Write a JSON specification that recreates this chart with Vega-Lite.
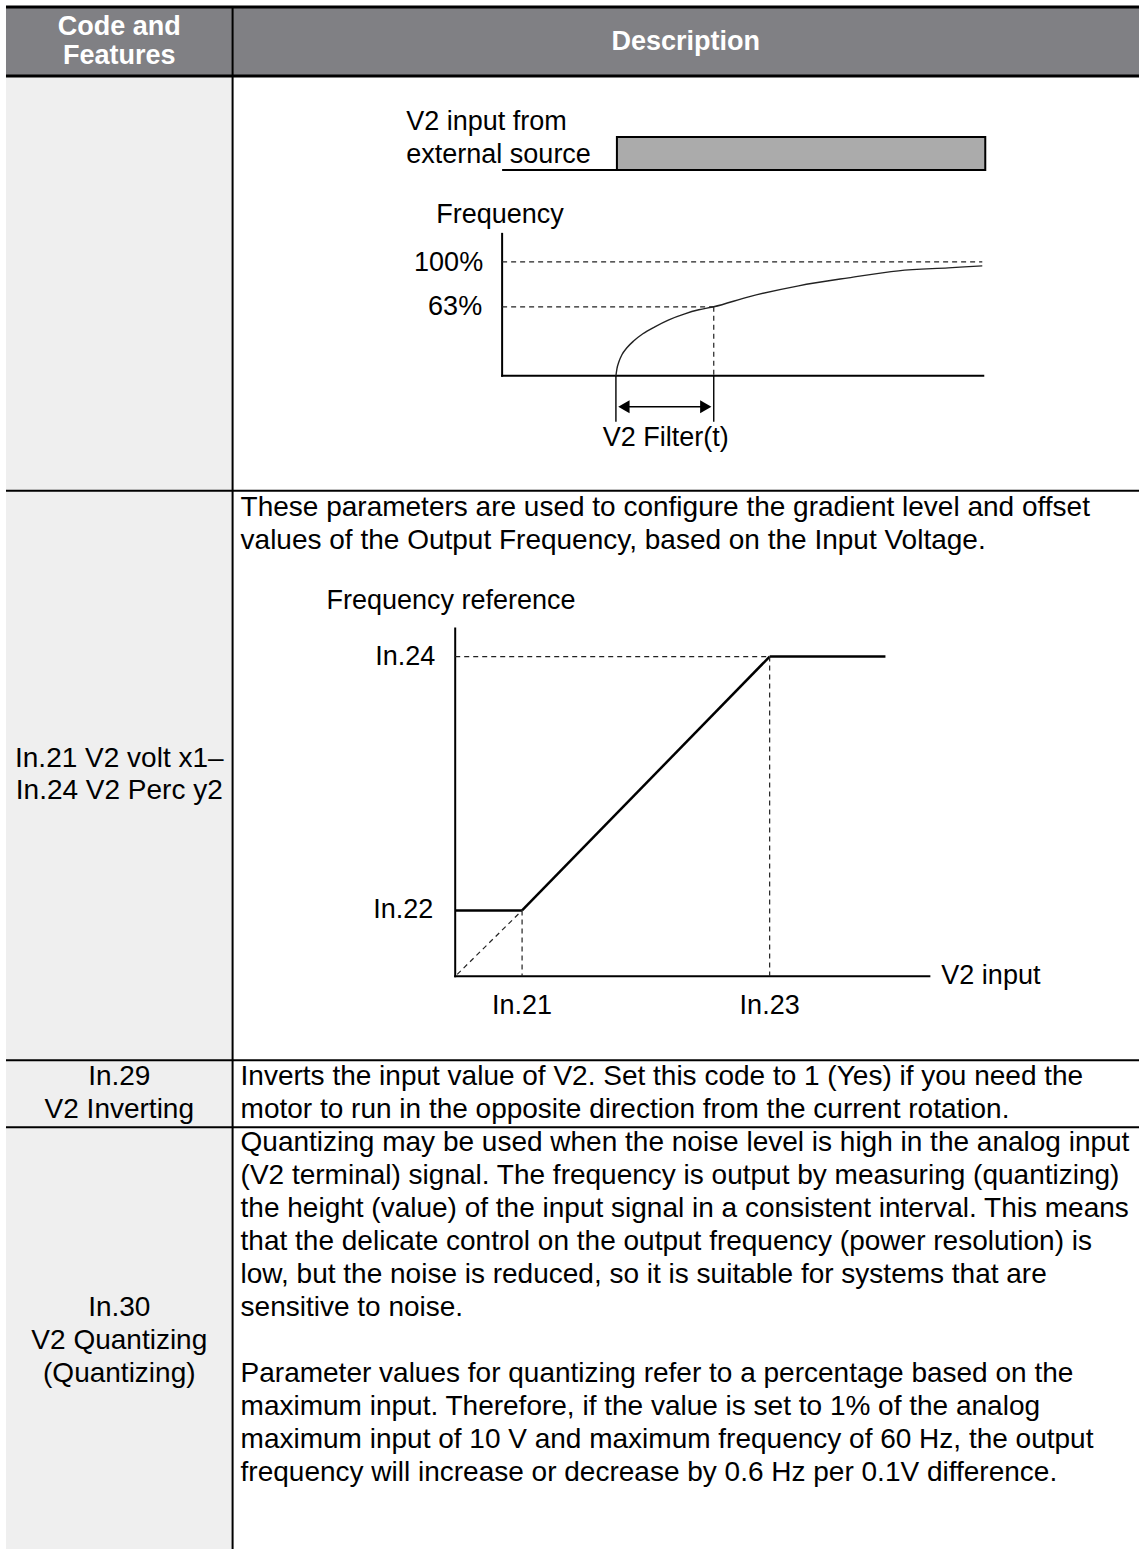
{
  "$schema": "https://vega.github.io/schema/vega-lite/v6.json",
  "width": 1141,
  "height": 1550,
  "padding": 0,
  "autosize": {"type": "fit", "contains": "padding"},
  "background": "white",
  "config": {"view": {"stroke": null}},
  "datasets": {
    "fills": [
      {"x": 6, "x2": 1141, "y": 8, "y2": 75, "kind": "header"},
      {"x": 6, "x2": 233, "y": 76, "y2": 1550, "kind": "code"}
    ],
    "pulse": [{"x": 618, "x2": 987, "y": 137, "y2": 170}],
    "lines": [
      {"x": 6, "y": 7, "x2": 1141, "y2": 7, "kind": "heavy"},
      {"x": 6, "y": 76, "x2": 1141, "y2": 76, "kind": "heavy"},
      {"x": 233, "y": 7, "x2": 233, "y2": 1550, "kind": "rule"},
      {"x": 6, "y": 491, "x2": 1141, "y2": 491, "kind": "rule"},
      {"x": 6, "y": 1061, "x2": 1141, "y2": 1061, "kind": "rule"},
      {"x": 6, "y": 1128, "x2": 1141, "y2": 1128, "kind": "rule"},
      {"x": 503, "y": 233, "x2": 503, "y2": 377, "kind": "rule"},
      {"x": 502, "y": 376, "x2": 986, "y2": 376, "kind": "rule"},
      {"x": 503, "y": 170, "x2": 618, "y2": 170, "kind": "rule"},
      {"x": 456, "y": 628, "x2": 456, "y2": 978, "kind": "rule"},
      {"x": 455, "y": 977, "x2": 932, "y2": 977, "kind": "rule"},
      {"x": 456, "y": 911, "x2": 523, "y2": 911, "kind": "plot"},
      {"x": 523, "y": 911, "x2": 771, "y2": 657, "kind": "plot"},
      {"x": 771, "y": 657, "x2": 887, "y2": 657, "kind": "plot"},
      {"x": 617, "y": 376, "x2": 617, "y2": 422, "kind": "thin"},
      {"x": 715, "y": 376, "x2": 715, "y2": 422, "kind": "thin"},
      {"x": 622, "y": 407, "x2": 710, "y2": 407, "kind": "thin"},
      {"x": 503, "y": 262, "x2": 984, "y2": 262, "kind": "dash"},
      {"x": 503, "y": 307, "x2": 715, "y2": 307, "kind": "dash"},
      {"x": 715, "y": 307, "x2": 715, "y2": 376, "kind": "dash"},
      {"x": 456, "y": 657, "x2": 771, "y2": 657, "kind": "dash"},
      {"x": 523, "y": 911, "x2": 523, "y2": 977, "kind": "dash"},
      {"x": 771, "y": 657, "x2": 771, "y2": 977, "kind": "dash"},
      {"x": 458, "y": 975, "x2": 523, "y2": 911, "kind": "dash"}
    ],
    "curve": [
      {"x": 617, "y": 376},
      {"x": 618, "y": 369},
      {"x": 620, "y": 362},
      {"x": 623, "y": 355},
      {"x": 628, "y": 348},
      {"x": 635, "y": 341},
      {"x": 644, "y": 334},
      {"x": 656, "y": 327},
      {"x": 670, "y": 320},
      {"x": 686, "y": 314},
      {"x": 700, "y": 310},
      {"x": 715, "y": 307},
      {"x": 750, "y": 297},
      {"x": 800, "y": 286},
      {"x": 850, "y": 278},
      {"x": 900, "y": 271},
      {"x": 950, "y": 268},
      {"x": 984, "y": 266}
    ],
    "arrows": [
      {"x": 625, "y": 407, "dir": "left"},
      {"x": 707, "y": 407, "dir": "right"}
    ],
    "texts": [
      {"x": 119.5, "y": 27, "label": "Code and", "role": "head"},
      {"x": 119.5, "y": 56, "label": "Features", "role": "head"},
      {"x": 687, "y": 42, "label": "Description", "role": "head"},
      {"x": 241, "y": 508, "label": "These parameters are used to configure the gradient level and offset", "role": "body"},
      {"x": 241, "y": 541, "label": "values of the Output Frequency, based on the Input Voltage.", "role": "body"},
      {"x": 241, "y": 1078, "label": "Inverts the input value of V2. Set this code to 1 (Yes) if you need the", "role": "body"},
      {"x": 241, "y": 1111, "label": "motor to run in the opposite direction from the current rotation.", "role": "body"},
      {"x": 241, "y": 1144, "label": "Quantizing may be used when the noise level is high in the analog input", "role": "body"},
      {"x": 241, "y": 1177, "label": "(V2 terminal) signal. The frequency is output by measuring (quantizing)", "role": "body"},
      {"x": 241, "y": 1210, "label": "the height (value) of the input signal in a consistent interval. This means", "role": "body"},
      {"x": 241, "y": 1243, "label": "that the delicate control on the output frequency (power resolution) is", "role": "body"},
      {"x": 241, "y": 1276, "label": "low, but the noise is reduced, so it is suitable for systems that are", "role": "body"},
      {"x": 241, "y": 1309, "label": "sensitive to noise.", "role": "body"},
      {"x": 241, "y": 1375, "label": "Parameter values for quantizing refer to a percentage based on the", "role": "body"},
      {"x": 241, "y": 1408, "label": "maximum input. Therefore, if the value is set to 1% of the analog", "role": "body"},
      {"x": 241, "y": 1441, "label": "maximum input of 10 V and maximum frequency of 60 Hz, the output", "role": "body"},
      {"x": 241, "y": 1474, "label": "frequency will increase or decrease by 0.6 Hz per 0.1V difference.", "role": "body"},
      {"x": 119.5, "y": 759, "label": "In.21 V2 volt x1–", "role": "cell"},
      {"x": 119.5, "y": 792, "label": "In.24 V2 Perc y2", "role": "cell"},
      {"x": 119.5, "y": 1078, "label": "In.29", "role": "cell"},
      {"x": 119.5, "y": 1111, "label": "V2 Inverting", "role": "cell"},
      {"x": 119.5, "y": 1309, "label": "In.30", "role": "cell"},
      {"x": 119.5, "y": 1342, "label": "V2 Quantizing", "role": "cell"},
      {"x": 119.5, "y": 1375, "label": "(Quantizing)", "role": "cell"},
      {"x": 407, "y": 122, "label": "V2 input from", "role": "dleft"},
      {"x": 407, "y": 155, "label": "external source", "role": "dleft"},
      {"x": 437, "y": 215, "label": "Frequency", "role": "dleft"},
      {"x": 327, "y": 601, "label": "Frequency reference", "role": "dleft"},
      {"x": 943, "y": 977, "label": "V2 input", "role": "dleft"},
      {"x": 484, "y": 263, "label": "100%", "role": "dright"},
      {"x": 483, "y": 307, "label": "63%", "role": "dright"},
      {"x": 436, "y": 657, "label": "In.24", "role": "dright"},
      {"x": 434, "y": 911, "label": "In.22", "role": "dright"},
      {"x": 667, "y": 438, "label": "V2 Filter(t)", "role": "dcenter"},
      {"x": 523, "y": 1007, "label": "In.21", "role": "dcenter"},
      {"x": 771, "y": 1007, "label": "In.23", "role": "dcenter"}
    ]
  },
  "layer": [
    {
      "data": {"name": "fills"},
      "mark": {"type": "rect"},
      "encoding": {
        "x": {"field": "x", "type": "quantitative", "scale": {"domain": [0, 1141], "nice": false, "zero": false}, "axis": null},
        "x2": {"field": "x2"},
        "y": {"field": "y", "type": "quantitative", "scale": {"domain": [0, 1550], "nice": false, "zero": false, "reverse": true}, "axis": null},
        "y2": {"field": "y2"},
        "color": {"field": "kind", "type": "nominal", "scale": {"domain": ["header", "code"], "range": ["#808084", "#efefef"]}, "legend": null}
      }
    },
    {
      "data": {"name": "pulse"},
      "mark": {"type": "rect", "fill": "#ababab", "stroke": "#000000", "strokeWidth": 2},
      "encoding": {
        "x": {"field": "x", "type": "quantitative"},
        "x2": {"field": "x2"},
        "y": {"field": "y", "type": "quantitative"},
        "y2": {"field": "y2"}
      }
    },
    {
      "data": {"name": "lines"},
      "transform": [{"filter": "datum.kind === 'heavy'"}],
      "mark": {"type": "rule", "color": "#000000", "strokeWidth": 3},
      "encoding": {
        "x": {"field": "x", "type": "quantitative"},
        "x2": {"field": "x2"},
        "y": {"field": "y", "type": "quantitative"},
        "y2": {"field": "y2"}
      }
    },
    {
      "data": {"name": "lines"},
      "transform": [{"filter": "datum.kind === 'rule'"}],
      "mark": {"type": "rule", "color": "#000000", "strokeWidth": 2},
      "encoding": {
        "x": {"field": "x", "type": "quantitative"},
        "x2": {"field": "x2"},
        "y": {"field": "y", "type": "quantitative"},
        "y2": {"field": "y2"}
      }
    },
    {
      "data": {"name": "lines"},
      "transform": [{"filter": "datum.kind === 'plot'"}],
      "mark": {"type": "rule", "color": "#000000", "strokeWidth": 2.5},
      "encoding": {
        "x": {"field": "x", "type": "quantitative"},
        "x2": {"field": "x2"},
        "y": {"field": "y", "type": "quantitative"},
        "y2": {"field": "y2"}
      }
    },
    {
      "data": {"name": "lines"},
      "transform": [{"filter": "datum.kind === 'thin'"}],
      "mark": {"type": "rule", "color": "#000000", "strokeWidth": 1.4},
      "encoding": {
        "x": {"field": "x", "type": "quantitative"},
        "x2": {"field": "x2"},
        "y": {"field": "y", "type": "quantitative"},
        "y2": {"field": "y2"}
      }
    },
    {
      "data": {"name": "lines"},
      "transform": [{"filter": "datum.kind === 'dash'"}],
      "mark": {"type": "rule", "color": "#222222", "strokeWidth": 1.2, "strokeDash": [5, 4]},
      "encoding": {
        "x": {"field": "x", "type": "quantitative"},
        "x2": {"field": "x2"},
        "y": {"field": "y", "type": "quantitative"},
        "y2": {"field": "y2"}
      }
    },
    {
      "data": {"name": "curve"},
      "mark": {"type": "line", "color": "#222222", "strokeWidth": 1.4, "interpolate": "monotone"},
      "encoding": {
        "x": {"field": "x", "type": "quantitative"},
        "y": {"field": "y", "type": "quantitative"}
      }
    },
    {
      "data": {"name": "arrows"},
      "mark": {"type": "point", "filled": true, "color": "#000000", "opacity": 1, "size": 170},
      "encoding": {
        "x": {"field": "x", "type": "quantitative"},
        "y": {"field": "y", "type": "quantitative"},
        "shape": {"field": "dir", "type": "nominal", "scale": {"domain": ["left", "right"], "range": ["triangle-left", "triangle-right"]}, "legend": null}
      }
    },
    {
      "data": {"name": "texts"},
      "transform": [{"filter": "datum.role === 'head'"}],
      "mark": {"type": "text", "align": "center", "baseline": "middle", "font": "Liberation Sans, Arial, sans-serif", "fontSize": 27, "fontWeight": "bold", "color": "#ffffff"},
      "encoding": {
        "x": {"field": "x", "type": "quantitative"},
        "y": {"field": "y", "type": "quantitative"},
        "text": {"field": "label"}
      }
    },
    {
      "data": {"name": "texts"},
      "transform": [{"filter": "datum.role === 'body'"}],
      "mark": {"type": "text", "align": "left", "baseline": "middle", "font": "Liberation Sans, Arial, sans-serif", "fontSize": 28, "color": "#000000"},
      "encoding": {
        "x": {"field": "x", "type": "quantitative"},
        "y": {"field": "y", "type": "quantitative"},
        "text": {"field": "label"}
      }
    },
    {
      "data": {"name": "texts"},
      "transform": [{"filter": "datum.role === 'cell'"}],
      "mark": {"type": "text", "align": "center", "baseline": "middle", "font": "Liberation Sans, Arial, sans-serif", "fontSize": 28, "color": "#000000"},
      "encoding": {
        "x": {"field": "x", "type": "quantitative"},
        "y": {"field": "y", "type": "quantitative"},
        "text": {"field": "label"}
      }
    },
    {
      "data": {"name": "texts"},
      "transform": [{"filter": "datum.role === 'dleft'"}],
      "mark": {"type": "text", "align": "left", "baseline": "middle", "font": "Liberation Sans, Arial, sans-serif", "fontSize": 27, "color": "#000000"},
      "encoding": {
        "x": {"field": "x", "type": "quantitative"},
        "y": {"field": "y", "type": "quantitative"},
        "text": {"field": "label"}
      }
    },
    {
      "data": {"name": "texts"},
      "transform": [{"filter": "datum.role === 'dright'"}],
      "mark": {"type": "text", "align": "right", "baseline": "middle", "font": "Liberation Sans, Arial, sans-serif", "fontSize": 27, "color": "#000000"},
      "encoding": {
        "x": {"field": "x", "type": "quantitative"},
        "y": {"field": "y", "type": "quantitative"},
        "text": {"field": "label"}
      }
    },
    {
      "data": {"name": "texts"},
      "transform": [{"filter": "datum.role === 'dcenter'"}],
      "mark": {"type": "text", "align": "center", "baseline": "middle", "font": "Liberation Sans, Arial, sans-serif", "fontSize": 27, "color": "#000000"},
      "encoding": {
        "x": {"field": "x", "type": "quantitative"},
        "y": {"field": "y", "type": "quantitative"},
        "text": {"field": "label"}
      }
    }
  ]
}
